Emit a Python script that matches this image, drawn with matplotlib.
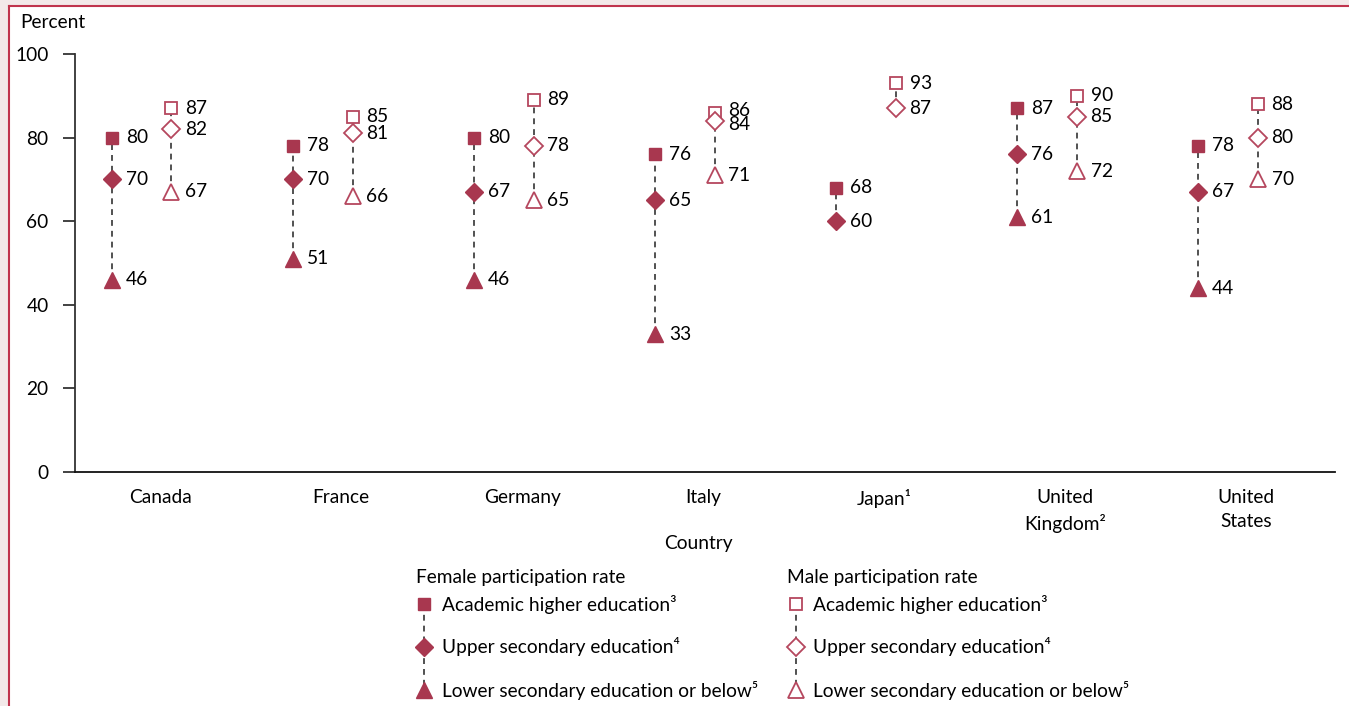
import matplotlib
matplotlib.use("Agg")
import matplotlib.pyplot as plt
from matplotlib.patches import Rectangle
from matplotlib.lines import Line2D
import numpy as np

plt.rcParams['font.family'] = ['Lato', 'DejaVu Sans']

countries = ["Canada", "France", "Germany", "Italy", "Japan¹", "United\nKingdom²", "United\nStates"]
female_higher = [80, 78, 80, 76, 68, 87, 78]
female_upper = [70, 70, 67, 65, 60, 76, 67]
female_lower = [46, 51, 46, 33, None, 61, 44]
male_higher = [87, 85, 89, 86, 93, 90, 88]
male_upper = [82, 81, 78, 84, 87, 85, 80]
male_lower = [67, 66, 65, 71, None, 72, 70]
yticks = [0, 20, 40, 60, 80, 100]
legend_items = ["Academic higher education³", "Upper secondary education⁴", "Lower secondary education or below⁵"]

FS = 13.8
W, H = 1349, 706
fig = plt.figure(figsize=(W/100, H/100), dpi=100)
fig.patch.set_facecolor("#f3e9e9")
RED = "#c0344d"
MK = "#a8374f"
MKO = "#b5475e"
fig.patches.append(Rectangle((9/W, 0), 1, 1 - 7/H, transform=fig.transFigure,
                             facecolor="white", edgecolor="none", zorder=-10))
fig.lines.append(Line2D([9/W, 9/W], [0, 1 - 6/H], transform=fig.transFigure, color=RED, lw=1.5))
fig.lines.append(Line2D([9/W, 1], [1 - 6/H, 1 - 6/H], transform=fig.transFigure, color=RED, lw=1.5))

ax = fig.add_axes([75/W, 1 - 472/H, (1335 - 75)/W, (472 - 54)/H])
ax.set_facecolor("none")
ax.set_ylim(0, 100)
ax.set_xlim(-0.47, 6.49)
for s in ["top", "right"]:
    ax.spines[s].set_visible(False)
ax.spines["left"].set_color("#333333")
ax.spines["left"].set_linewidth(1.3)
ax.spines["bottom"].set_color("#111111")
ax.spines["bottom"].set_linewidth(1.3)
ax.set_yticks(yticks)
ax.tick_params(axis="y", length=9, width=1.3, color="#333333", labelsize=FS, pad=10)
ax.set_xticks(np.arange(len(countries)))
ax.set_xticklabels(countries, fontsize=FS, linespacing=1.5)
ax.tick_params(axis="x", length=0, pad=12.5)

fig.text(20/W, 1 - 22/H, "Percent", fontsize=FS, ha="left", va="center")
fig.text(698/W, 1 - 543/H, "Country", fontsize=FS, ha="center", va="center")

xs = np.arange(len(countries))
fx = xs - 0.265
mx = xs + 0.063

dash = dict(color="#333333", lw=1.2, dashes=(3.5, 3), zorder=1)
# small vertical nudges (pixels) for crowded labels: (series, index) -> dy
nudge = {("mh", 3): 2, ("mu", 3): -4}

def draw_group(x, hi, up, lo, filled, keys):
    for i in range(len(x)):
        vals = [v for v in (hi[i], up[i], lo[i]) if v is not None]
        ax.plot([x[i], x[i]], [min(vals), max(vals)], **dash)
    fc = MK if filled else "white"
    ec = MK if filled else MKO
    ew = 1.0 if filled else 1.3
    for arr, m, ms, key in ((hi, "s", 8.5 if filled else 9, keys[0]), (up, "D", 9.5, keys[1]), (lo, "^", 11.5, keys[2])):
        idx = [i for i, v in enumerate(arr) if v is not None]
        xx = [x[i] for i in idx]
        yy = [arr[i] for i in idx]
        ax.plot(xx, yy, ls="none", marker=m, ms=ms, mfc=fc, mec=ec, mew=ew, zorder=3)
        for i in idx:
            dy = nudge.get((key, i), 0) * 0.72
            ax.annotate(str(arr[i]), (x[i], arr[i]), xytext=(10, dy), textcoords="offset points",
                        va="center", ha="left", fontsize=FS, zorder=4)

draw_group(fx, female_higher, female_upper, female_lower, True, ("fh", "fu", "fl"))
draw_group(mx, male_higher, male_upper, male_lower, False, ("mh", "mu", "ml"))

def legend_block(x_title, x_mark, x_text, title, filled):
    ft = fig.transFigure
    fig.text(x_title/W, 1 - 578/H, title, fontsize=FS, ha="left", va="center")
    ys = [604, 647, 690]
    fig.lines.append(Line2D([x_mark/W, x_mark/W], [1 - ys[0]/H, 1 - ys[-1]/H], transform=ft, **dash))
    fc = MK if filled else "white"
    ec = MK if filled else MKO
    ew = 1.0 if filled else 1.3
    for y, m, ms, lab in zip(ys, ["s", "D", "^"], [8.5, 9.5, 11.5], legend_items):
        fig.lines.append(Line2D([x_mark/W], [1 - y/H], transform=ft, ls="none", marker=m, ms=ms,
                                mfc=fc, mec=ec, mew=ew, zorder=3))
        fig.text(x_text/W, 1 - y/H, lab, fontsize=FS, ha="left", va="center")

legend_block(416, 424, 442, "Female participation rate", True)
legend_block(787, 796, 813, "Male participation rate", False)

fig.savefig("out.png", dpi=100, facecolor=fig.get_facecolor())
